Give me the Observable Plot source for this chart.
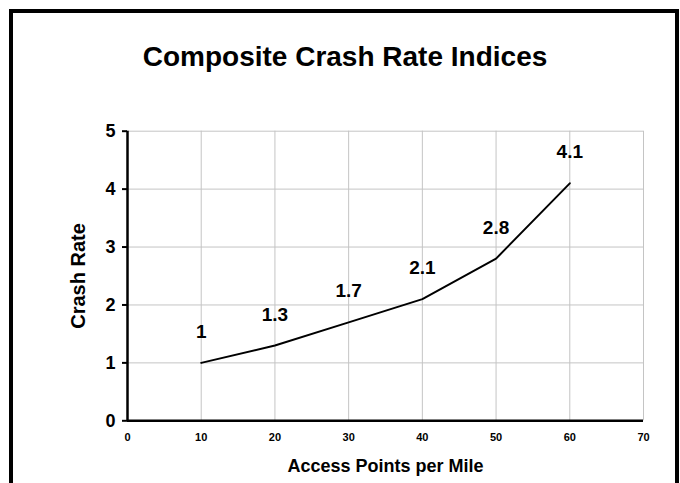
<!DOCTYPE html>
<html>
<head>
<meta charset="utf-8">
<script src="https://cdn.jsdelivr.net/npm/d3@7"></script>
<script src="https://cdn.jsdelivr.net/npm/@observablehq/plot@0.6"></script>
<style>
  html, body { margin: 0; padding: 0; background: #fff; }
  #wrap { position: relative; width: 680px; height: 483px; overflow: hidden; font-family: Arial, "Liberation Sans", sans-serif; }
  #frame { position: absolute; left: 9px; top: 9px; width: 662px; height: 520px; border: 4px solid #000; box-sizing: content-box; pointer-events: none; }
  #title { position: absolute; left: 0; top: 0; width: 690px; height: 100px; font-weight: bold; font-size: 28px; line-height: 1; }
  #title span { position: absolute; left: 345px; top: 43px; transform: translateX(-50%); white-space: nowrap; }
  #chart { position: absolute; left: 0; top: 100px; }
</style>
</head>
<body>
<div id="wrap">
  <div id="title"><span>Composite Crash Rate Indices</span></div>
  <div id="chart"></div>
  <div id="frame"></div>
</div>
<script>
const accessPoints = [10, 20, 30, 40, 50, 60];
const crashRate = [1, 1.3, 1.7, 2.1, 2.8, 4.1];
const xTicks = [0, 10, 20, 30, 40, 50, 60, 70];
const yTicks = [0, 1, 2, 3, 4, 5];
const xLabel = "Access Points per Mile";
const yLabel = "Crash Rate";

const data = accessPoints.map((x, i) => ({x, y: crashRate[i]}));

const chart = Plot.plot({
  width: 680,
  height: 383,
  marginLeft: 127,
  marginRight: 37,
  marginTop: 30.7,
  marginBottom: 62.7,
  style: {fontFamily: "Arial, 'Liberation Sans', sans-serif", color: "#000", background: "transparent", overflow: "visible"},
  x: {domain: [0, 70]},
  y: {domain: [0, 5]},
  marks: [
    Plot.gridX(xTicks.filter(d => d > 0), {stroke: "#c4c4c4", strokeOpacity: 1, strokeWidth: 1}),
    Plot.gridY(yTicks.filter(d => d > 0), {stroke: "#c4c4c4", strokeOpacity: 1, strokeWidth: 1}),
    Plot.axisY(yTicks, {tickSize: 5, tickPadding: 7, tickFormat: d => String(d), fontSize: 18, fontWeight: "bold", label: null, strokeWidth: 2}),
    Plot.axisX(xTicks, {tickSize: 0, tickPadding: 12, tickFormat: d => String(d), fontSize: 11, fontWeight: "bold", label: null}),
    Plot.ruleX([0], {stroke: "#000", strokeWidth: 2.5}),
    Plot.ruleY([0], {stroke: "#000", strokeWidth: 2.5}),
    Plot.line(data, {x: "x", y: "y", stroke: "#000", strokeWidth: 2}),
    Plot.text(data, {x: "x", y: "y", text: d => String(d.y), dy: -31, fontSize: 19, fontWeight: "bold", fill: "#000"}),
    Plot.text([yLabel], {frameAnchor: "left", textAnchor: "middle", lineAnchor: "middle", dx: -49, rotate: -90, fontSize: 20, fontWeight: "bold", fill: "#000"}),
    Plot.text([xLabel], {frameAnchor: "bottom", textAnchor: "middle", lineAnchor: "middle", dy: 45, fontSize: 18, fontWeight: "bold", fill: "#000"})
  ]
});
document.getElementById("chart").appendChild(chart);
</script>
</body>
</html>
